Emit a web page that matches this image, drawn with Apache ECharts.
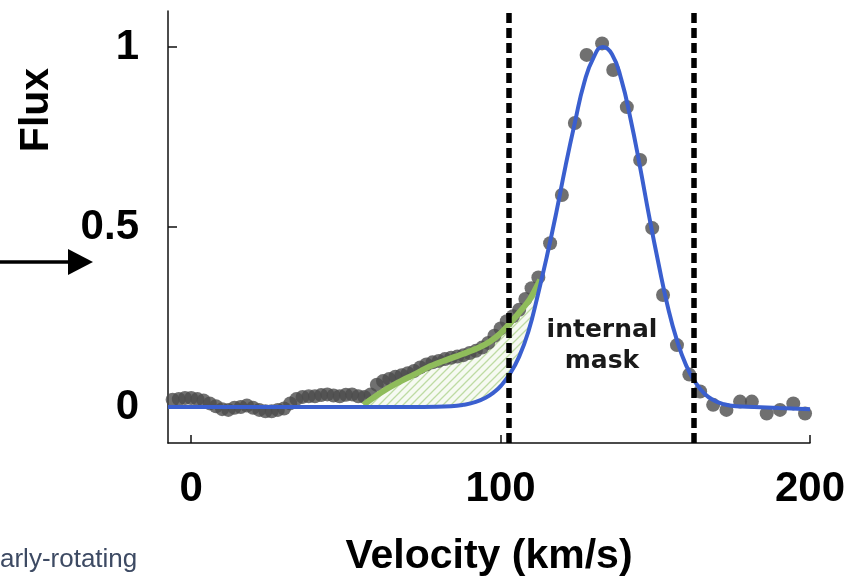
<!DOCTYPE html>
<html>
<head>
<meta charset="utf-8">
<script src="https://cdn.jsdelivr.net/npm/echarts@6.0.0/dist/echarts.min.js"></script>
<style>
  html, body { margin: 0; padding: 0; background: #fff; }
  #chart { width: 868px; height: 583px; }
</style>
</head>
<body>
<div id="chart"></div>
<script>
// measured spectrum (grey dots)
const dotVel = [-6, -4, -2, 0, 2, 4, 6, 8, 10, 12, 14, 16, 18, 20, 22, 24, 26, 28, 30, 32,
  34, 36, 38, 40, 42, 44, 46, 48, 50, 52, 54, 56, 58, 60, 62, 64, 66, 68, 70, 72,
  74, 76, 78, 80, 82, 84, 86, 88, 90, 92, 94, 96, 98, 100, 102, 104, 106, 108, 110,
  112.2, 116, 119.8, 124, 127.8, 132.8, 136.4, 140.8, 145.1, 149, 152.5, 157, 161,
  164.5, 168.7, 173, 177.4, 181.2, 186, 190.3, 194.6, 198.4];
const dotFlux = [0.02, 0.022, 0.025, 0.025, 0.022, 0.018, 0.01, 0.002, -0.006, -0.008, -0.002, 0.0, 0.004, -0.002, -0.008, -0.012, -0.012, -0.008, -0.004, 0.01,
  0.022, 0.028, 0.03, 0.03, 0.033, 0.035, 0.032, 0.03, 0.034, 0.035, 0.03, 0.028, 0.035, 0.062, 0.072, 0.078, 0.084, 0.088, 0.094, 0.1,
  0.11, 0.118, 0.124, 0.128, 0.133, 0.137, 0.14, 0.144, 0.15, 0.156, 0.165, 0.178, 0.198, 0.218, 0.238, 0.252, 0.27, 0.3, 0.33,
  0.36, 0.455, 0.589, 0.789, 0.978, 1.01, 0.936, 0.833, 0.686, 0.497, 0.311, 0.172, 0.09,
  0.043, 0.006, -0.008, 0.015, 0.015, -0.018, -0.008, 0.01, -0.018];

// blue fitted profile
const fitVel = [-7.5, 60, 75, 84, 88, 92, 95, 98, 100, 103, 106, 109, 112, 115, 118, 121, 124, 127, 130,
  133, 136, 139, 142, 145, 148, 151, 154, 157, 160, 163, 166, 169, 172, 176, 182, 190, 200];
const fitFlux = [0, 0, 0, 0.002, 0.006, 0.014, 0.025, 0.042, 0.058, 0.092, 0.14, 0.21, 0.31, 0.42, 0.54, 0.67, 0.79, 0.9, 0.97,
  1.0, 0.98, 0.91, 0.8, 0.67, 0.53, 0.4, 0.28, 0.185, 0.115, 0.068, 0.036, 0.018, 0.008, 0.002, 0, -0.003, -0.006];

// green wing
const wingVel = [55.7, 61, 66.5, 72, 77.2, 82.6, 88, 93, 96.6, 100, 103, 106, 109.5, 112.8];
const wingFlux = [0.006, 0.038, 0.066, 0.09, 0.113, 0.131, 0.148, 0.165, 0.182, 0.205, 0.232, 0.262, 0.3, 0.353];

// internal mask edges
const maskEdges = [102.5, 162.3];

const xTicks = [0, 100, 200];
const yTicks = [0, 0.5, 1];

const zip = (xs, ys) => xs.map((x, i) => [x, ys[i]]);

// hatched region between the wing and the fit
const wingStart = wingVel[0];
const wingEnd = wingVel[wingVel.length - 1];
const hatchPts = zip(wingVel, wingFlux)
  .concat(zip(fitVel, fitFlux).filter(p => p[0] > wingStart && p[0] <= wingEnd).reverse())
  .concat([[wingStart, 0]]);

const pc = document.createElement('canvas');
pc.width = 8; pc.height = 8;
const ctx = pc.getContext('2d');
ctx.fillStyle = 'rgba(230,240,218,0.35)';
ctx.fillRect(0, 0, 8, 8);
ctx.strokeStyle = 'rgba(165,205,130,0.7)';
ctx.lineWidth = 1.3;
ctx.beginPath();
ctx.moveTo(0, 8); ctx.lineTo(8, 0);
ctx.moveTo(-2, 2); ctx.lineTo(2, -2);
ctx.moveTo(6, 10); ctx.lineTo(10, 6);
ctx.stroke();

const chart = echarts.init(document.getElementById('chart'));
const labelFont = { fontFamily: 'Liberation Sans', fontWeight: 'bold', fontSize: 42, color: '#000' };

chart.setOption({
  animation: false,
  grid: { left: 168, right: 58, top: 11, bottom: 140 },
  xAxis: {
    type: 'value', min: -7.5, max: 200,
    axisLine: { onZero: false, lineStyle: { color: '#111', width: 1.5 } },
    axisTick: { inside: true, length: 8, customValues: xTicks, lineStyle: { color: '#111', width: 1.5 } },
    axisLabel: Object.assign({ customValues: xTicks, margin: 25 }, labelFont),
    splitLine: { show: false },
    name: 'Velocity (km/s)', nameLocation: 'middle', nameGap: 93,
    nameTextStyle: { fontFamily: 'Liberation Sans', fontWeight: 'bold', fontSize: 41, color: '#000' }
  },
  yAxis: {
    type: 'value', min: -0.1, max: 1.1,
    axisLine: { show: true, onZero: false, lineStyle: { color: '#111', width: 1.5 } },
    axisTick: { show: true, inside: true, length: 9, customValues: yTicks, lineStyle: { color: '#111', width: 1.5 } },
    axisLabel: Object.assign({ customValues: yTicks, margin: 29 }, labelFont),
    splitLine: { show: false }
  },
  graphic: [
    { type: 'text', x: 37, y: 110, rotation: Math.PI / 2, style: {
      text: 'Flux', align: 'center', verticalAlign: 'middle',
      font: 'bold 41px "Liberation Sans"', fill: '#000' } },
    { type: 'text', x: 602, y: 346, style: {
      text: 'internal\nmask', align: 'center', verticalAlign: 'middle', lineHeight: 31,
      font: 'bold 25px "DejaVu Sans"', fill: '#1a1a1a' } },
    { type: 'line', shape: { x1: 0, y1: 262, x2: 74, y2: 262 }, style: { stroke: '#000', lineWidth: 3.5 } },
    { type: 'polygon', shape: { points: [[68, 249], [93, 262], [68, 275]] }, style: { fill: '#000' } },
    { type: 'text', x: 0, y: 560, style: {
      text: 'arly-rotating', verticalAlign: 'middle',
      font: '26px "Liberation Sans"', fill: '#3d4a63' } }
  ],
  series: [
    {
      type: 'custom', z: 1, silent: true,
      data: [[wingStart, 0]],
      renderItem: (params, api) => ({
        type: 'polygon',
        shape: { points: hatchPts.map(p => api.coord(p)) },
        style: { fill: { image: pc, repeat: 'repeat' }, stroke: null }
      })
    },
    {
      type: 'scatter', z: 2, silent: true,
      data: zip(dotVel, dotFlux),
      symbolSize: 14,
      itemStyle: { color: '#4c4c4c' }
    },
    {
      type: 'line', z: 3, silent: true,
      data: zip(wingVel, wingFlux),
      smooth: 0.3, showSymbol: false,
      lineStyle: { color: '#8fbc5b', width: 6 }
    },
    {
      type: 'line', z: 4, silent: true,
      data: zip(fitVel, fitFlux),
      smooth: 0.5, showSymbol: false,
      lineStyle: { color: '#3a5fcf', width: 4 },
      markLine: {
        silent: true, symbol: 'none', label: { show: false },
        lineStyle: { color: '#000', type: [10, 5], width: 5.5 },
        data: maskEdges.map(v => ({ xAxis: v }))
      }
    }
  ]
});
</script>
</body>
</html>
